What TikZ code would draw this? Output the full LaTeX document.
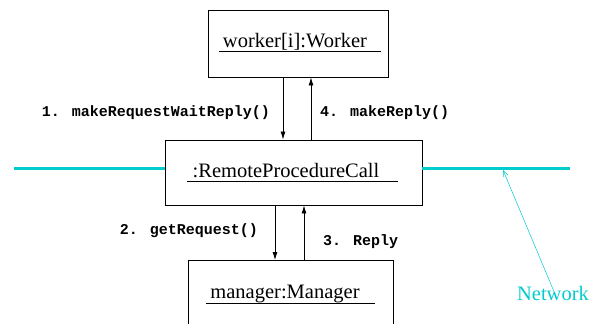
\documentclass[tikz,border=0pt]{standalone}
\usepackage{fontspec}
\setmainfont{Liberation Serif}
\newfontfamily\msgfont{Liberation Mono}
\usetikzlibrary{arrows.meta,calc}

\definecolor{netcyan}{RGB}{0,204,206}

\tikzset{
    objbox/.style={draw, line width=0.9pt, minimum width=#1},
    objname/.style={inner sep=0pt, anchor=base, font=\fontsize{20.5}{24}\selectfont},
    msg/.style={inner sep=0pt, font=\msgfont\bfseries\fontsize{15}{18}\selectfont},
    call/.style={-{Latex[length=8pt,width=5pt]}, line width=0.8pt},
}

\begin{document}
\begin{tikzpicture}[x=1pt, y=-1pt]
        \clip (0,0) rectangle (598,324);

        % Objet worker
        \node[objbox=180, minimum height=67] (worker) at (298, 43.5) {};
        \node[objname] (workerlbl) at (295, 48) {worker[i]:Worker};
        \draw[line width=1pt] ($(workerlbl.base west)+(-4,3)$) -- ($(workerlbl.base east)+(14,3)$);

        % Objet RemoteProcedureCall
        \node[objbox=257, minimum height=65] (rpc) at (293.5, 172.5) {};
        \node[objname] (rpclbl) at (286, 177) {:RemoteProcedureCall};
        \draw[line width=1pt] ($(rpclbl.base west)+(-5,4)$) -- ($(rpclbl.base east)+(18,4)$);

        % Objet manager (coupé en bas)
        \node[objbox=205, minimum height=80] (manager) at (290.5, 300.5) {};
        \node[objname] (managerlbl) at (285, 298) {manager:Manager};
        \draw[line width=1pt] ($(managerlbl.base west)+(-4,5)$) -- ($(managerlbl.base east)+(15,5)$);

        % Réseau
        \coordinate (netL) at (14, 168);
        \coordinate (netR) at (570, 168);
        \draw[netcyan, line width=3pt] (netL) -- (netL -| rpc.west);
        \draw[netcyan, line width=3pt] (netR -| rpc.east) -- (netR);
        \node[inner sep=0pt, anchor=base, text=netcyan, font=\fontsize{20.5}{24}\selectfont] (netlbl) at (553, 300) {Network};
        \coordinate (netpt) at (503, 170);
        \draw[netcyan, line width=0.5pt, -{Straight Barb[length=6pt,width=5pt]}] ($(netlbl.north)+(1,6)$) -- (netpt);

        % Appels entre worker et rpc
        \draw[call] ([xshift=-15pt]worker.south) -- ([xshift=-10.5pt]rpc.north);
        \draw[call] ([xshift=17.5pt]rpc.north) -- ([xshift=13pt]worker.south);
        \node[msg, anchor=east] (m1) at (270, 113) {1. makeRequestWaitReply()};
        \node[msg, anchor=west] (m4) at (320, 113) {4. makeReply()};

        % Appels entre rpc et manager
        \draw[call] ([xshift=-18.5pt]rpc.south) -- ([xshift=-15.5pt]manager.north);
        \draw[call] ([xshift=13.5pt]manager.north) -- ([xshift=10.5pt]rpc.south);
        \node[msg, anchor=east] (m2) at (258, 231) {2. getRequest()};
        \node[msg, anchor=west] (m3) at (323, 242) {3. Reply};

\end{tikzpicture}
\end{document}
